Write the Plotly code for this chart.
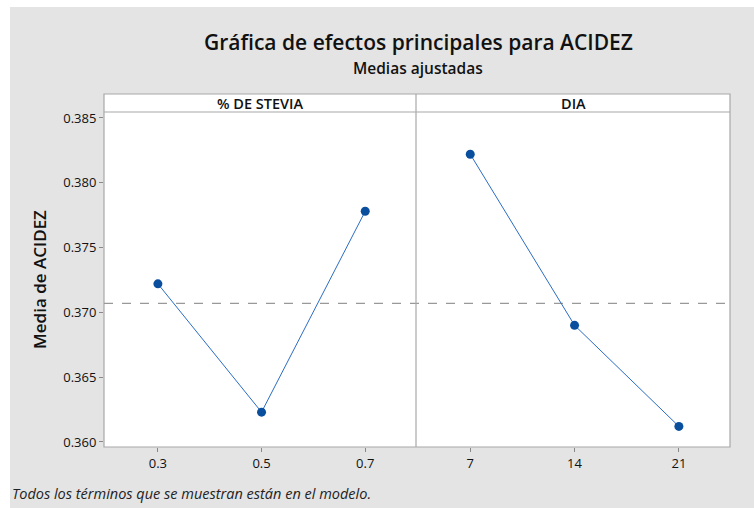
import plotly.graph_objects as go

# Data
stevia_levels = ["0.3", "0.5", "0.7"]
stevia_means = [0.3722, 0.3623, 0.3778]
dia_levels = ["7", "14", "21"]
dia_means = [0.3822, 0.3690, 0.3612]
overall_mean = 0.3707
y_ticks = [0.360, 0.365, 0.370, 0.375, 0.380, 0.385]

W, H = 754, 508
ML, MR, MT, MB = 104, 24, 94, 61
PW, PH = W - ML - MR, H - MT - MB
split = (416 - ML) / PW
ytop = (447 - 112) / PH

def px_x(p):
    return (p - ML) / PW

def px_y(p):
    return (H - MB - p) / PH

line_col = "#2b6cc4"
mark_col = "#0a4f9e"
font = "Open Sans"

fig = go.Figure()
fig.add_trace(go.Scatter(x=list(range(len(stevia_levels))), y=stevia_means, mode="lines+markers",
                         line=dict(color=line_col, width=1), marker=dict(color=mark_col, size=9),
                         xaxis="x", yaxis="y", showlegend=False))
fig.add_trace(go.Scatter(x=list(range(len(dia_levels))), y=dia_means, mode="lines+markers",
                         line=dict(color=line_col, width=1), marker=dict(color=mark_col, size=9),
                         xaxis="x2", yaxis="y", showlegend=False))

rng = [-0.52, 2.49]
tf = dict(size=13, color="#111", family=font)
axcommon = dict(showgrid=False, zeroline=False, ticks="outside", ticklen=4, tickcolor="#888",
                tickfont=tf, range=rng, fixedrange=True, showline=False)
fig.update_layout(
    xaxis=dict(domain=[0, split], tickvals=list(range(3)), ticktext=stevia_levels, anchor="y", **axcommon),
    xaxis2=dict(domain=[split, 1], tickvals=list(range(3)), ticktext=dia_levels, anchor="y", **axcommon),
    yaxis=dict(domain=[0, ytop], range=[0.35961, 0.38546], tickvals=y_ticks, tickformat=".3f",
               showgrid=False, zeroline=False, ticks="outside", ticklen=4, tickcolor="#888",
               tickfont=tf, fixedrange=True,
               title=dict(text="Media de ACIDEZ", font=dict(size=17, color="#111", family=font, weight=600), standoff=12)),
    width=W, height=H, margin=dict(l=ML, r=MR, t=MT, b=MB),
    paper_bgcolor="white", plot_bgcolor="white",
)

shapes = []
# grey background
shapes.append(dict(type="rect", xref="paper", yref="paper", x0=px_x(10), x1=px_x(W + 5),
                   y0=px_y(H + 5), y1=px_y(7), fillcolor="#e4e4e4", line=dict(width=0), layer="below"))
# plot white areas
shapes.append(dict(type="rect", xref="paper", yref="paper", x0=0, x1=1, y0=0, y1=1,
                   fillcolor="white", line=dict(color="#a8a8a8", width=1.2), layer="below"))
# strip separator
shapes.append(dict(type="line", xref="paper", yref="paper", x0=0, x1=1, y0=ytop, y1=ytop,
                   line=dict(color="#a8a8a8", width=1.2)))
# panel divider
shapes.append(dict(type="line", xref="paper", yref="paper", x0=split, x1=split, y0=0, y1=1,
                   line=dict(color="#a8a8a8", width=1.2)))
# mean line
shapes.append(dict(type="line", xref="paper", yref="y", x0=0, x1=1, y0=overall_mean, y1=overall_mean,
                   line=dict(color="#999999", width=1.2, dash="dash"), layer="below"))
fig.update_layout(shapes=shapes)

ann = [
    dict(text="Gráfica de efectos principales para ACIDEZ", x=px_x(418), y=px_y(42), xref="paper", yref="paper",
         showarrow=False, font=dict(size=21, color="#111", family=font, weight=600), xanchor="center", yanchor="middle"),
    dict(text="Medias ajustadas", x=px_x(418), y=px_y(68), xref="paper", yref="paper",
         showarrow=False, font=dict(size=15.5, color="#111", family=font, weight=600), xanchor="center", yanchor="middle"),
    dict(text="% DE STEVIA", x=split / 2, y=(ytop + 1) / 2, xref="paper", yref="paper",
         showarrow=False, font=dict(size=14.5, color="#111", family=font, weight=600), xanchor="center", yanchor="middle"),
    dict(text="DIA", x=(split + 1) / 2, y=(ytop + 1) / 2, xref="paper", yref="paper",
         showarrow=False, font=dict(size=14.5, color="#111", family=font, weight=600), xanchor="center", yanchor="middle"),
    dict(text="<i>Todos los términos que se muestran están en el modelo.</i>", x=px_x(10), y=px_y(493),
         xref="paper", yref="paper", showarrow=False, font=dict(size=14.5, color="#222", family=font),
         xanchor="left", yanchor="middle"),
]
fig.update_layout(annotations=ann)

fig.write_html("out.html", config={"displayModeBar": False},
               post_script="document.body.style.margin='0';document.body.style.overflow='hidden';")
